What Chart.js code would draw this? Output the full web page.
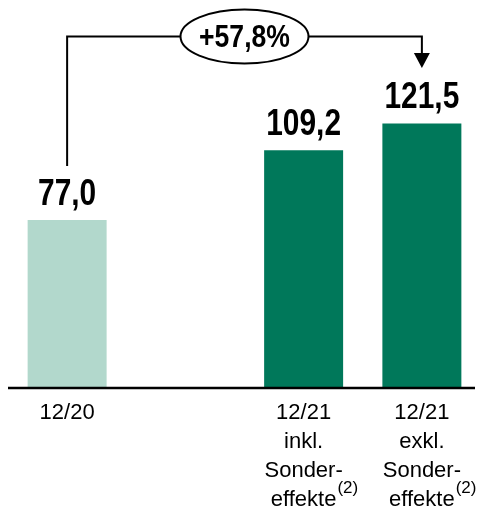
<!DOCTYPE html>
<html>
<head>
<meta charset="utf-8">
<script src="https://cdn.jsdelivr.net/npm/chart.js@4"></script>
<style>
  html, body { margin: 0; padding: 0; overflow: hidden; background: #fff; }
  #wrap { position: absolute; left: 0; top: 0; width: 481px; height: 508px; }
</style>
</head>
<body>
<div id="wrap"><canvas id="chart" width="481" height="508"></canvas></div>
<script>
// data
const categories = [
  ['12/20'],
  [''],
  ['12/21', 'inkl.', 'Sonder-', 'effekte'],
  ['12/21', 'exkl.', 'Sonder-', 'effekte']
];
const footnotes = ['', '', '(2)', '(2)'];
const values = [77.0, null, 109.2, 121.5];
const valueLabels = ['77,0', '', '109,2', '121,5'];
const growthLabel = '+57,8%';
const barColors = ['#b2d8cc', '#b2d8cc', '#00785a', '#00785a'];

const FONT = "'Liberation Sans', Arial, sans-serif";
const NARROW = "'Liberation Sans Narrow', 'Arial Narrow'";

// check if a narrow face is installed, else squeeze by hand
const probe = document.createElement('canvas').getContext('2d');
probe.font = "bold 32px " + NARROW + ", monospace";
const wNarrow = probe.measureText(growthLabel).width;
probe.font = "bold 32px monospace";
const hasNarrow = Math.abs(wNarrow - probe.measureText(growthLabel).width) > 1;

const tickFont = hasNarrow
  ? { family: NARROW, size: 26, lineHeight: 1.12 }
  : { family: FONT, size: 22, lineHeight: 1.32 };

function narrowText(ctx, text, x, y, size, weight) {
  ctx.save();
  if (hasNarrow) {
    ctx.font = weight + ' ' + size + 'px ' + NARROW;
    ctx.fillText(text, x, y);
  } else {
    ctx.font = weight + ' ' + size + 'px ' + FONT;
    ctx.translate(x, y);
    ctx.scale(0.83, 1);
    ctx.fillText(text, 0, 0);
  }
  ctx.restore();
}

const decorations = {
  id: 'decorations',
  afterDatasetsDraw(chart) {
    const ctx = chart.ctx;
    const bars = chart.getDatasetMeta(0).data;
    const area = chart.chartArea;
    const xs = chart.scales.x;

    // base line
    ctx.save();
    ctx.strokeStyle = '#000';
    ctx.lineWidth = 2.5;
    ctx.beginPath();
    ctx.moveTo(area.left, area.bottom + 1);
    ctx.lineTo(475, area.bottom + 1);
    ctx.stroke();

    // value labels
    ctx.fillStyle = '#000';
    ctx.textAlign = 'center';
    ctx.textBaseline = 'alphabetic';
    bars.forEach((b, i) => {
      if (values[i] == null) return;
      narrowText(ctx, valueLabels[i], b.x, b.y - 15, 36, 'bold');
    });

    // footnote marks behind the last tick line
    const lineH = tickFont.size * tickFont.lineHeight;
    ctx.textAlign = 'left';
    ctx.textBaseline = 'middle';
    footnotes.forEach((f, i) => {
      if (!f) return;
      const lines = categories[i];
      ctx.font = tickFont.size + 'px ' + tickFont.family;
      const w = ctx.measureText(lines[lines.length - 1]).width;
      const yLast = area.bottom + xs.options.ticks.padding + lineH / 2 + (lines.length - 1) * lineH;
      const x = xs.getPixelForTick(i) + w / 2 + 1;
      ctx.font = (hasNarrow ? 20 : 17) + 'px ' + tickFont.family;
      ctx.fillText(f, x, yLast - 11);
    });

    // bracket with arrow
    const first = bars[0], last = bars[3];
    const yTop = 36.5;
    ctx.lineWidth = 2;
    ctx.beginPath();
    ctx.moveTo(first.x, first.y - 54);
    ctx.lineTo(first.x, yTop);
    ctx.lineTo(last.x, yTop);
    ctx.lineTo(last.x, 56);
    ctx.stroke();
    ctx.beginPath();
    ctx.moveTo(last.x - 8, 53);
    ctx.lineTo(last.x + 8, 53);
    ctx.lineTo(last.x, 68);
    ctx.closePath();
    ctx.fill();

    // ellipse with growth
    const cx = (first.x + last.x) / 2;
    ctx.beginPath();
    ctx.ellipse(cx, yTop, 64, 27, 0, 0, Math.PI * 2);
    ctx.fillStyle = '#fff';
    ctx.fill();
    ctx.stroke();
    ctx.fillStyle = '#000';
    ctx.textAlign = 'center';
    ctx.textBaseline = 'middle';
    narrowText(ctx, growthLabel, cx, yTop + 2, 32, 'bold');
    ctx.restore();
  }
};

new Chart(document.getElementById('chart'), {
  type: 'bar',
  data: {
    labels: categories,
    datasets: [{
      data: values,
      backgroundColor: barColors,
      borderWidth: 0,
      categoryPercentage: 1,
      barPercentage: 0.668
    }]
  },
  options: {
    responsive: false,
    animation: false,
    layout: { padding: { left: 8, right: 0, top: 40, bottom: 0 } },
    plugins: {
      legend: { display: false },
      tooltip: { enabled: false }
    },
    scales: {
      x: {
        offset: true,
        grid: { display: false, drawTicks: false },
        border: { display: false },
        ticks: {
          color: '#000',
          font: tickFont,
          padding: 11,
          maxRotation: 0,
          autoSkip: false
        },
        afterFit(scale) { scale.height = 121; }
      },
      y: {
        display: false,
        min: 0,
        max: 160
      }
    }
  },
  plugins: [decorations]
});
</script>
</body>
</html>
